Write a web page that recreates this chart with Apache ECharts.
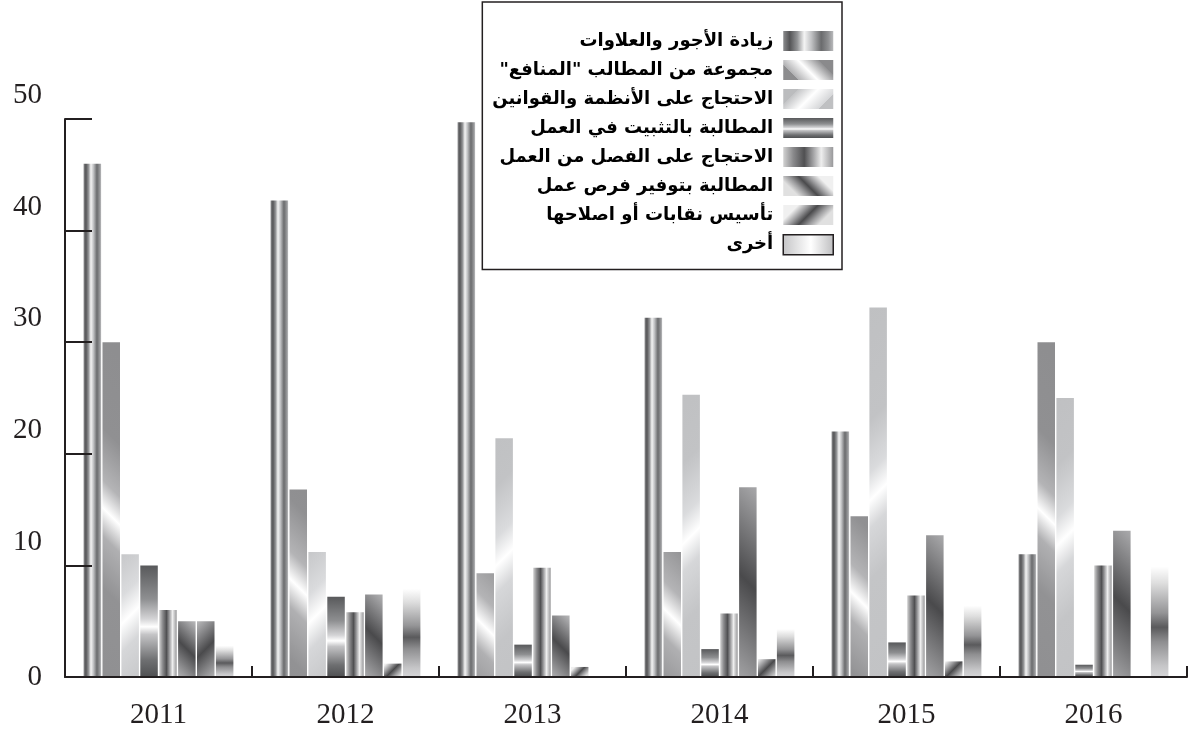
<!DOCTYPE html>
<html>
<head>
<meta charset="utf-8">
<script src="https://cdn.jsdelivr.net/npm/echarts@6/dist/echarts.min.js"></script>
<style>
  html, body { margin: 0; padding: 0; background: #fff; }
  #chart { width: 1192px; height: 732px; }
</style>
</head>
<body>
<div id="chart"></div>
<script>
  // السنوات
  var years = ['2011', '2012', '2013', '2014', '2015', '2016'];
  // أسماء الفئات (RLM keeps the closing quote on the left)
  var names = [
    'زيادة الأجور والعلاوات',
    'مجموعة من المطالب "المنافع"\u200F',
    'الاحتجاج على الأنظمة والقوانين',
    'المطالبة بالتثبيت في العمل',
    'الاحتجاج على الفصل من العمل',
    'المطالبة بتوفير فرص عمل',
    'تأسيس نقابات أو اصلاحها',
    'أخرى'
  ];
  var wages = [46, 42.7, 49.7, 32.2, 22, 11];
  var benefits = [30, 16.8, 9.3, 11.2, 14.4, 30];
  var regulations = [11, 11.2, 21.4, 25.3, 33.1, 25];
  var tenure = [10, 7.2, 2.9, 2.5, 3.1, 1.1];
  var dismissal = [6, 5.8, 9.8, 5.7, 7.3, 10];
  var jobs = [5, 7.4, 5.5, 17, 12.7, 13.1];
  var unions = [5, 1.2, 0.9, 1.6, 1.4, null];
  var others = [2.8, 7.9, null, 4.3, 6.4, 9.9];
  var yTicks = [0, 10, 20, 30, 40, 50];

  var seriesValues = [wages, benefits, regulations, tenure, dismissal, jobs, unions, others];

  var gridTop = 119, gridBottom = 55;
  var barW = 17.5;
  var yMax = yTicks[yTicks.length - 1];
  var pxPerUnit = (732 - gridTop - gridBottom) / yMax;

  function linX(stops) {
    return { type: 'linear', x: 0, y: 0, x2: 1, y2: 0, colorStops: stops };
  }
  function linY(stops) {
    return { type: 'linear', x: 0, y: 0, x2: 0, y2: 1, colorStops: stops };
  }
  function toStops(arr) {
    return arr.map(function (s) { return { offset: s[0], color: s[1] }; });
  }

  // 45 degree streak inside a w x h box; back = "\" streak, otherwise "/"
  // around: [pixel distance from the streak centre, colour], sorted
  function diag(w, h, c, back, top, bottom, around) {
    var a = c * h, b = (1 - c) * h;
    var x0 = back ? w / 2 + a : w / 2 - a;
    var x1 = back ? w / 2 - b : w / 2 + b;
    var stops = [[0, top]];
    around.forEach(function (s) {
      var off = c + s[0] / h;
      off = Math.min(Math.max(off, 0.001), 0.999);
      if (off > stops[stops.length - 1][0]) stops.push([off, s[1]]);
    });
    stops.push([1, bottom]);
    return { type: 'linear', x: x0 / w, y: 0, x2: x1 / w, y2: 1, colorStops: toStops(stops) };
  }

  var cylinder = toStops([[0, '#8a8b8d'], [0.13, '#545456'], [0.28, '#929395'], [0.42, '#f4f4f4'],
    [0.56, '#c2c3c5'], [0.76, '#6a6b6d'], [0.9, '#8f9092'], [1, '#b9babc']]);
  var bands = toStops([[0, '#58595b'], [0.3, '#8e8f91'], [0.48, '#d4d4d6'], [0.55, '#ffffff'],
    [0.62, '#c4c4c6'], [0.85, '#6e6f71'], [1, '#4f5052']]);
  var stripes = toStops([[0, '#d2d2d2'], [0.2, '#8a8a8c'], [0.42, '#505052'], [0.6, '#a2a2a4'],
    [0.76, '#eeeeee'], [1, '#98989a']]);
  var fade = toStops([[0, '#ffffff'], [0.15, '#dedede'], [0.42, '#949496'], [0.55, '#5a5a5c'],
    [0.68, '#8e8e90'], [0.9, '#c6c6c8'], [1, '#d6d6d8']]);

  // one painter per series: (w, h) -> fill
  var painters = [
    function () { return linX(cylinder); },
    function (w, h) {
      return diag(w, h, 0.52, true, '#8a8a8c', '#8c8c8e',
        [[-40, '#909092'], [-14, '#b4b4b6'], [0, '#ffffff'], [14, '#b0b0b2'], [40, '#929294']]);
    },
    function (w, h) {
      return diag(w, h, 0.5, false, '#bbbcbe', '#bfc0c2',
        [[-40, '#c2c3c5'], [-14, '#dadbdd'], [0, '#ffffff'], [14, '#d6d7d9'], [40, '#c4c5c7']]);
    },
    function () { return linY(bands); },
    function () { return linX(stripes); },
    function (w, h) {
      return diag(w, h, 0.5, true, '#f0f0f0', '#e0e0e0',
        [[-h * 0.25, '#a0a0a2'], [0, '#4a4a4c'], [h * 0.25, '#9a9a9c']]);
    },
    function (w, h) {
      return diag(w, h, 0.5, false, '#f0f0f0', '#e0e0e0',
        [[-h * 0.25, '#a0a0a2'], [0, '#4a4a4c'], [h * 0.25, '#9a9a9c']]);
    },
    function () { return linY(fade); }
  ];

  var legendIcons = painters.map(function (p, i) {
    if (i === 7) {
      return { color: linX(toStops([[0, '#c4c4c6'], [0.55, '#ffffff'], [1, '#bdbdbf']])),
        borderColor: '#231f20', borderWidth: 1.5 };
    }
    return { color: p(50, 20) };
  });

  var chart = echarts.init(document.getElementById('chart'));

  var series = seriesValues.map(function (vals, i) {
    return {
      name: names[i],
      type: 'bar',
      data: vals,
      barWidth: barW,
      barGap: '8%',
      itemStyle: {
        color: function (params) {
          var h = Math.max((params.value || 0) * pxPerUnit, 1);
          return painters[i](barW, h);
        }
      }
    };
  });

  var axisColor = '#231f20';
  var labelFont = { fontFamily: 'Liberation Serif', fontSize: 29, color: axisColor };

  var option = {
    animation: false,
    backgroundColor: '#ffffff',
    legend: {
      orient: 'vertical',
      align: 'right',
      right: 350,
      top: 2,
      padding: [29, 8, 14, 10],
      itemWidth: 50,
      itemHeight: 20,
      itemGap: 9,
      borderColor: axisColor,
      borderWidth: 1.5,
      selectedMode: false,
      textStyle: {
        fontFamily: 'DejaVu Sans',
        fontWeight: 'bold',
        fontSize: 18,
        color: '#000000',
        padding: [0, 5, 0, 0]
      },
      data: names.map(function (n, i) {
        return { name: n, icon: 'rect', itemStyle: legendIcons[i] };
      })
    },
    grid: { left: 65, right: 5, top: gridTop, bottom: gridBottom, containLabel: false },
    xAxis: {
      type: 'category',
      data: years,
      z: 5,
      axisLine: { lineStyle: { color: axisColor, width: 2 } },
      axisTick: { show: true, interval: 0, inside: true, length: 11, lineStyle: { color: axisColor, width: 2 } },
      axisLabel: Object.assign({ margin: 24, interval: 0 }, labelFont),
      splitLine: { show: false }
    },
    yAxis: [
      {
        type: 'value',
        min: 0,
        max: yMax,
        interval: 10,
        z: 5,
        axisLine: { show: true, lineStyle: { color: axisColor, width: 2 } },
        axisTick: { show: true, inside: true, length: 27, lineStyle: { color: axisColor, width: 2 } },
        axisLabel: Object.assign({
          margin: 23,
          verticalAlign: 'bottom',
          padding: [0, 0, 9, 0],
          formatter: function (v) { return v === 0 ? '' : String(v); }
        }, labelFont),
        splitLine: { show: false }
      },
      {
        type: 'value',
        min: 0,
        max: yMax,
        interval: 10,
        position: 'left',
        axisLine: { show: false },
        axisTick: { show: false },
        axisLabel: Object.assign({
          margin: 23,
          formatter: function (v) { return v === 0 ? '0' : ''; }
        }, labelFont),
        splitLine: { show: false }
      }
    ],
    series: series
  };

  chart.setOption(option);
</script>
</body>
</html>
